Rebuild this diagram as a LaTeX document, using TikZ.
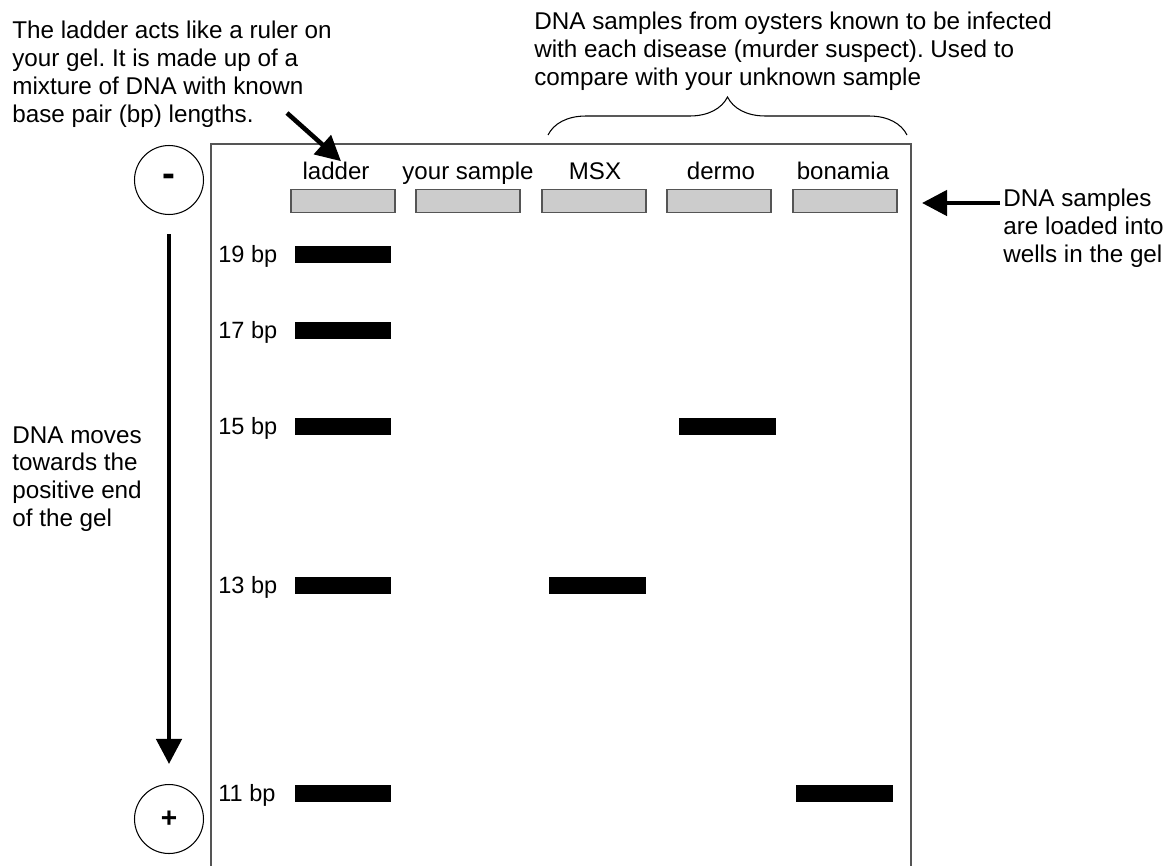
\documentclass[tikz,border=0pt]{standalone}
\usepackage{fontspec}
\setmainfont{Liberation Sans}
\usetikzlibrary{arrows.meta, decorations.pathreplacing, positioning}
\definecolor{wellgris}{RGB}{204, 204, 204}
\definecolor{bordegris}{RGB}{85, 85, 85}
\tikzset{
    note/.style={align=left, anchor=north west, inner sep=0pt, font=\fontsize{13.8}{15.9}\selectfont},
    well/.style={draw=bordegris, fill=wellgris, line width=0.8pt, minimum width=2.08cm, minimum height=0.46cm, inner sep=0pt},
    band/.style={fill=black, minimum width=1.94cm, minimum height=0.34cm, inner sep=0pt},
    lane/.style={anchor=base, inner sep=0pt, font=\fontsize{13.7}{15}\selectfont},
    bpLbl/.style={anchor=base west, inner sep=0pt, font=\fontsize{13.4}{15}\selectfont},
    pole/.style={draw, circle, minimum size=1.38cm, inner sep=0pt, line width=0.6pt, font=\fontsize{16}{16}\selectfont\bfseries},
    bigarrow/.style={-{Triangle[length=0.5cm, width=0.5cm]}, line width=2.6pt},
}
\frenchspacing

\begin{document}
\begin{tikzpicture}[x=0.02cm, y=-0.02cm]
    \useasboundingbox (0,0) rectangle (1172,865);

    % gel
    \draw[bordegris, line width=0.9pt] (211,870) -- (211,144) -- (911,144) -- (911,870);

    % wells and lane names
    \foreach \wx/\lx/\nm/\txt in {343/336/lad/ladder, 468/468/you/your sample, 594/595/msx/MSX, 719/721/der/dermo, 845/843/bon/bonamia} {
        \node[well] (w\nm) at (\wx,201) {};
        \node[lane] (l\nm) at (\lx,179) {\txt};
    }

    % ladder bands
    \foreach \by/\n in {254/19, 330/17, 426/15, 585/13, 793/11} {
        \node[band] (lad\n) at (343,\by) {};
        \node[bpLbl] (bp\n) at (218,\by+8) {\n\ bp};
    }

    % sample bands
    \node[band] (msx13) at (597,585) {};
    \node[band] (der15) at (727,426) {};
    \node[band] (bon11) at (844,793) {};

    % poles
    \node[pole, font=\fontsize{22}{22}\selectfont\bfseries] (minus) at (169,180) {-};
    \node[pole] (plus) at (169,819) {+};
    \draw[bigarrow, shorten <=0.38cm, shorten >=0.4cm] (minus) -- (plus);

    % notes
    \node[note] (ladnote) at (12,21) {The ladder acts like a ruler on\\your gel. It is made up of a\\mixture of DNA with known\\base pair (bp) lengths.};
    \node[note] (susnote) at (534,12) {DNA samples from oysters known to be infected\\with each disease (murder suspect). Used to\\compare with your unknown sample};
    \node[note] (loadnote) at (1003,189) {DNA samples\\are loaded into\\wells in the gel};
    \node[note] (movenote) at (12,426) {DNA moves\\towards the\\positive end\\of the gel};

    \coordinate (ladtail) at (287,113);
    \draw[bigarrow] (ladtail) -- ([xshift=0.1cm]llad.north);

    \coordinate (loadtail) at (1000,203);
    \coordinate (loadtip) at (922,203);
    \draw[bigarrow] (loadtail) -- (loadtip);

    \coordinate (brl) at (548,135);
    \coordinate (brr) at (907,135);
    \draw[decorate, decoration={brace, amplitude=0.76cm}, line width=0.6pt] (brl) -- (brr);
\end{tikzpicture}
\end{document}
